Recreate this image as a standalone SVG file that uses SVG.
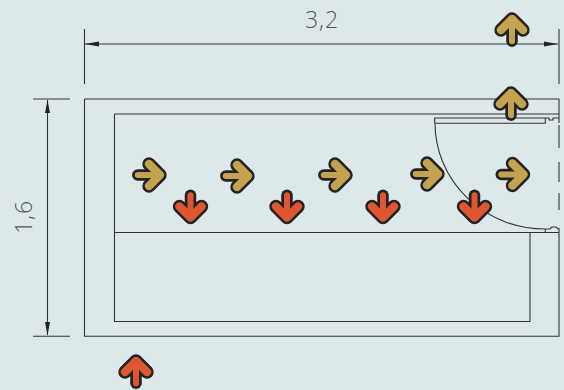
<svg xmlns="http://www.w3.org/2000/svg" width="564" height="390" viewBox="0 0 564 390">
<style>
.l{fill:none;stroke:#333;stroke-width:1.1}
.t{font-family:"Open Sans","Liberation Sans",sans-serif;font-weight:300;font-size:23px;letter-spacing:1px;fill:#555}
.ow{fill:none;stroke:#232323;stroke-width:13.4;stroke-linecap:round;stroke-linejoin:round}
.os{fill:none;stroke:#232323;stroke-width:11.5;stroke-linecap:round}
.g{stroke:#c4a350}
.r{stroke:#de5632}
.iw{fill:none;stroke-width:8.2;stroke-linecap:round;stroke-linejoin:round}
.is{fill:none;stroke-width:6;stroke-linecap:round}
.h{fill:#232323}
</style>
<defs>
<path id="w" d="M-11,0L0,-11L11,0"/>
<path id="s" d="M0,11.2V-8"/>
<g id="ag"><use href="#w" class="ow"/><use href="#s" class="os"/><use href="#w" class="iw g"/><use href="#s" class="is g"/></g>
<g id="ar"><use href="#w" class="ow"/><use href="#s" class="os"/><use href="#w" class="iw r"/><use href="#s" class="is r"/></g>
</defs>
<rect width="564" height="390" fill="#dde8ea"/>
<g id="connectors">
<path class="l" d="M84.5,99H559V123M84.5,99V336.3H559V228"/>
<path class="l" d="M114.5,114H559M114.5,114V321.5H530V232.5M114.5,232.5H559"/>
<path class="l" d="M434.7,123.3V118H545.3V123.3H434.7M545.3,118H549V120H553V118H559"/>
<path class="l" d="M435,123.3A110,106 0 0 0 545.3,229V232.5M545.3,229H550L552,227H556L558,229H559"/>
<path class="l" d="M559,125V148M559,162V182M559,193V210"/>
<path class="l" d="M84.5,29V84M559,29V84M85,44H558"/>
<path class="l" d="M33,99H70M33,336.3H70M47.5,100V335"/>
<path class="h" d="M85,44L99,41.5V46.5ZM558,44L544,41.5V46.5ZM47.5,100L45,113H50ZM47.5,335.5L45,322H50Z"/>
</g>
<g id="label-width"><text class="t" x="322" y="28" text-anchor="middle">3,2</text></g>
<g id="label-height"><text class="t" transform="translate(32,217) rotate(-90)" text-anchor="middle">1,6</text></g>
<g id="a1"><use href="#ag" transform="translate(512,30)"/></g>
<g id="a2"><use href="#ag" transform="translate(511,104)"/></g>
<g id="a3"><use href="#ag" transform="translate(149,175) rotate(90)"/></g>
<g id="a4"><use href="#ag" transform="translate(237,176) rotate(90)"/></g>
<g id="a5"><use href="#ag" transform="translate(335,175) rotate(90)"/></g>
<g id="a6"><use href="#ag" transform="translate(427,174) rotate(90)"/></g>
<g id="a7"><use href="#ag" transform="translate(512.5,174.5) rotate(90)"/></g>
<g id="a8"><use href="#ar" transform="translate(190.5,206.5) rotate(180)"/></g>
<g id="a9"><use href="#ar" transform="translate(287,206.5) rotate(180)"/></g>
<g id="a10"><use href="#ar" transform="translate(383,206.5) rotate(180)"/></g>
<g id="a11"><use href="#ar" transform="translate(474.5,206.5) rotate(180)"/></g>
<g id="a12"><use href="#ar" transform="translate(136,372)"/></g>
</svg>
